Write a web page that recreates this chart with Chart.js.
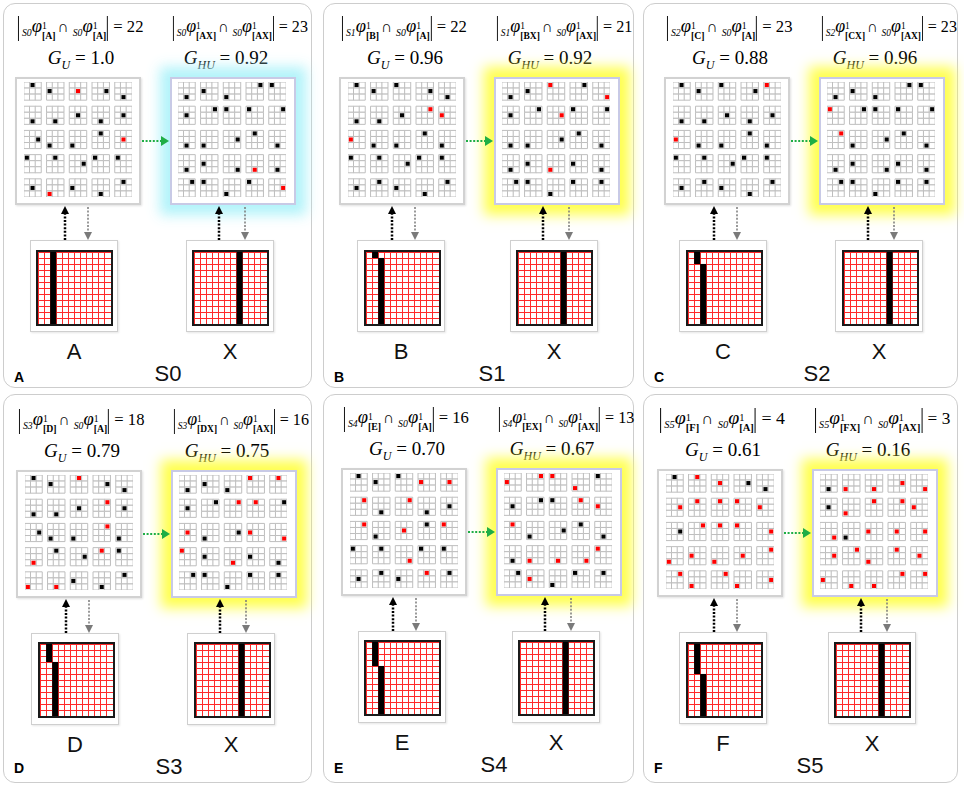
<!DOCTYPE html>
<html lang="en">
<head>
<meta charset="UTF-8">
<title>Grid patterns S0-S5</title>
<script src="https://cdn.jsdelivr.net/npm/chart.js@4.4.1/dist/chart.umd.min.js"></script>
<style>
  body { margin: 0; width: 964px; height: 787px; overflow: hidden; position: relative; background: #fff;
         font-family: 'Liberation Sans', Arial, sans-serif; }
  .panel { position: absolute; border: 1.5px solid #cdcdcd; border-radius: 12px; box-sizing: border-box; background: #fff; }
  .bigframe { position: absolute; width: 126px; height: 128px; box-sizing: border-box; background: #fff;
              border: 2px solid #d2d2d2; box-shadow: 1px 1px 2px rgba(0,0,0,0.12); }
  .glow-y { border-color: #c8cae6; box-shadow: 0 0 12px 10px rgba(255,255,70,0.95); }
  .glow-c { border-color: #c8cae6; box-shadow: 0 0 12px 10px rgba(170,242,250,0.9); }
  .smallframe { position: absolute; width: 88px; height: 92px; box-sizing: border-box; background: #fff;
                border: 1.5px solid #cfcfcf; box-shadow: 1px 1px 2px rgba(0,0,0,0.1); }
  .strip { position: absolute; width: 77px; height: 76px; box-sizing: border-box; border: 2px solid #1a1a1a; background: #fff; }
  .strip canvas { display: block; }
  .fml { position: absolute; white-space: nowrap; transform-origin: 0 0;
         font-family: 'Liberation Serif', 'Times New Roman', serif; font-size: 17px; line-height: 26px; height: 26px; }
  .vb { display: inline-block; width: 0; height: 25px; border-left: 1px solid #111; vertical-align: middle; margin: 0 1px; }
  .pre { font-style: italic; font-size: 10px; vertical-align: -4px; margin-left: 2px; }
  .phi { font-style: italic; font-size: 19px; }
  .ss { display: inline-block; font-size: 10px; line-height: 10px; vertical-align: -7px; }
  .ss span, .ss b { display: block; }
  .cap { margin: 0 2px; font-size: 16px; }
  .gval { position: absolute; white-space: nowrap; transform: translate(-50%, -50%);
          font-family: 'Liberation Serif', 'Times New Roman', serif; font-size: 19px; }
  .gval sub { font-style: italic; font-size: 12px; vertical-align: -5px; }
  .lab { position: absolute; transform: translate(-50%, -50%); font-size: 22px; color: #111; }
  .letter { position: absolute; font-size: 14px; font-weight: bold; line-height: 14px; }
  svg { position: absolute; left: 0; top: 0; }
</style>
</head>
<body>
<svg id="arrows" width="964" height="787"></svg>
<script>
// ---- data -------------------------------------------------------------
const panelNames = ['A', 'B', 'C', 'D', 'E', 'F'];
const patternNames = ['A', 'B', 'C', 'D', 'E', 'F'];
const stages = ['S0', 'S1', 'S2', 'S3', 'S4', 'S5'];
const gU = ['1.0', '0.96', '0.88', '0.79', '0.70', '0.61'];
const gHU = ['0.92', '0.92', '0.96', '0.75', '0.67', '0.16'];
const overlapLeft = [22, 22, 23, 18, 16, 4];
const overlapRight = [23, 21, 23, 16, 13, 3];

// 5x5 blocks of 3x3 cells, read row by row; token = colour (k black, r red)
// + filled cell inside the block (row*3 + col)
const cellsA = ['k1','k3','r4','k5','k7', 'k7','k7','k4','k7','k4', 'k5','k6','k6','k1','r4', 'k0','k1','k5','k0','k0', 'k4','r6','k3','k7','k1'];
const cellsB = ['k1','k3','k0','k5','k7', 'k7','k7','k4','r2','r3', 'r3','k6','k6','k1','k6', 'k0','k1','k5','k0','k0', 'k4','k1','k3','k7','k1'];
const cellsC = ['k1','k3','k0','k5','r0', 'k7','k7','k4','k7','k4', 'r3','k6','k6','k1','k6', 'k0','k1','k5','k0','k0', 'k4','k1','k3','k7','k1'];
const cellsD = ['k1','k3','r1','k5','k7', 'k7','k7','k4','r2','k4', 'k5','k6','k6','r2','k6', 'r7','k1','k5','r1','k0', 'r6','r7','k3','k7','k1'];
const cellsE = ['k1','k3','k0','r3','r4', 'r2','k7','r2','k7','k4', 'r2','k6','r4','k1','r0', 'k0','k1','r8','k0','k0', 'k4','k1','k3','r1','k1'];
const cellsF = ['k1','r1','r4','k5','k7', 'r5','r1','r1','r0','r3', 'k5','r2','r1','r0','r5', 'r6','r3','r6','r4','r2', 'r2','r6','r2','r6','r5'];
const cellsAX = ['k7','k3','k6','k2','k0', 'k4','k2','k0','k0','k2', 'k7','k6','k5','k1','k7', 'k7','k3','k8','r7','k7', 'k2','k0','k6','k0','r5'];
const cellsBX = ['k7','k3','r0','k2','r8', 'k4','k2','r5','k0','k2', 'k7','k6','k5','k1','k7', 'k7','k3','r6','k3','k7', 'k2','k0','k6','k0','k1'];
const cellsCX = ['k7','k3','k6','k2','k0', 'r0','k2','k0','k0','k2', 'r2','k6','k5','k1','k7', 'k7','k3','k8','k3','k7', 'k2','k0','k6','k0','k1'];
const cellsDX = ['k7','k3','k6','r0','r1', 'k4','k2','r2','r1','k2', 'r4','k6','k5','r3','r8', 'r0','k3','r7','k3','k7', 'k2','k0','k6','k0','k1'];
const cellsEX = ['r3','r2','r0','r6','k0', 'k4','k2','k0','r1','r3', 'r1','k6','k5','k1','k7', 'k7','r6','r7','r8','r0', 'k2','r3','k6','k0','k1'];
const cellsFX = ['k7','r6','r7','r5','r8', 'k4','r6','r1','r2','r3', 'r8','k6','r3','r4','r5', 'r5','r2','r6','r1','r4', 'r3','r7','r7','r2','r2'];

// 12x12 letter images: black column index for each of the 12 rows
const stripA = [2,2,2,2,2,2,2,2,2,2,2,2];
const stripB = [1,2,2,2,2,2,2,2,2,2,2,2];
const stripC = [1,1,2,2,2,2,2,2,2,2,2,2];
const stripD = [1,1,1,2,2,2,2,2,2,2,2,2];
const stripE = [1,1,1,1,2,2,2,2,2,2,2,2];
const stripF = [1,1,1,1,1,2,2,2,2,2,2,2];
const stripX = [7,7,7,7,7,7,7,7,7,7,7,7];

const leftCells = [cellsA, cellsB, cellsC, cellsD, cellsE, cellsF];
const rightCells = [cellsAX, cellsBX, cellsCX, cellsDX, cellsEX, cellsFX];
const leftStrips = [stripA, stripB, stripC, stripD, stripE, stripF];

// ---- layout -----------------------------------------------------------
const boxes = [
  {x: 3, y: 3, w: 309, h: 385}, {x: 323, y: 3, w: 311, h: 385}, {x: 643, y: 3, w: 315, h: 385},
  {x: 3, y: 394, w: 309, h: 389}, {x: 323, y: 394, w: 311, h: 389}, {x: 643, y: 394, w: 315, h: 389}
];
const offs = [
  {dx: 0, dy: 0, sl: 0, sr: 0}, {dx: 324, dy: 0, sl: 327, sr: 324}, {dx: 649, dy: 0, sl: 649, sr: 649},
  {dx: 1, dy: 393, sl: 1, sr: 1}, {dx: 326, dy: 391, sl: 328, sr: 326}, {dx: 642, dy: 392, sl: 649, sr: 642}
];

Chart.defaults.animation = false;
Chart.defaults.events = [];
Chart.defaults.plugins.legend.display = false;
Chart.defaults.plugins.tooltip.enabled = false;

function el(tag, cls, x, y, html) {
  const d = document.createElement(tag);
  if (cls) d.className = cls;
  d.style.left = x + 'px';
  d.style.top = y + 'px';
  if (html) d.innerHTML = html;
  document.body.appendChild(d);
  return d;
}

function canvasAt(parent, x, y, w, h) {
  const c = document.createElement('canvas');
  c.width = w; c.height = h;
  c.style.position = 'absolute';
  c.style.left = x + 'px';
  c.style.top = y + 'px';
  parent.appendChild(c);
  return c;
}

const even = v => 2 * Math.round(v / 2);

// point size from the scale unit, so cells follow the axes
function unitRadius(k, useMax) {
  return ctx => {
    const {x, y} = ctx.chart.scales;
    const ux = Math.abs(x.getPixelForValue(1) - x.getPixelForValue(0));
    const uy = Math.abs(y.getPixelForValue(1) - y.getPixelForValue(0));
    return (useMax ? Math.max(ux, uy) : Math.min(ux, uy)) * k / Math.SQRT2;
  };
}

function blockChart(canvas, tokens) {
  const cells = [], black = [], red = [];
  for (let br = 0; br < 5; br++) {
    for (let bc = 0; bc < 5; bc++) {
      for (let r = 0; r < 3; r++) for (let c = 0; c < 3; c++) cells.push({x: bc * 4 + c, y: br * 4 + r});
      const t = tokens[br * 5 + bc];
      const p = Number(t.slice(1));
      const pt = {x: bc * 4 + p % 3, y: br * 4 + Math.floor(p / 3)};
      (t[0] === 'r' ? red : black).push(pt);
    }
  }
  return new Chart(canvas, {
    type: 'scatter',
    data: {
      datasets: [
        {data: black, order: 0, pointStyle: 'rect', backgroundColor: '#000', borderWidth: 0, pointRadius: unitRadius(0.72)},
        {data: red, order: 0, pointStyle: 'rect', backgroundColor: '#ff0000', borderWidth: 0, pointRadius: unitRadius(0.72)},
        {data: cells, order: 5, pointStyle: 'rect', backgroundColor: '#fff', borderColor: '#bebebe', borderWidth: 1, pointRadius: unitRadius(1, true)}
      ]
    },
    options: {
      responsive: false,
      layout: {padding: 2},
      scales: {
        x: {display: false, min: -0.5, max: 18.5},
        y: {display: false, min: -0.5, max: 18.5, reverse: true}
      }
    }
  });
}

function stripAxis(reverse) {
  return {
    type: 'linear', min: 0, max: 12, z: 1, reverse: reverse,
    ticks: {display: false, stepSize: 1},
    grid: {color: '#ff2a2a', lineWidth: 1, drawTicks: false},
    border: {display: false}
  };
}

function stripChart(canvas, cols) {
  const pts = cols.map((c, r) => ({x: c + 0.5, y: r + 0.5}));
  return new Chart(canvas, {
    type: 'scatter',
    data: {datasets: [{data: pts, pointStyle: 'rect', backgroundColor: '#000', borderWidth: 0, pointRadius: unitRadius(1, true)}]},
    options: {
      responsive: false,
      scales: {x: stripAxis(false), y: stripAxis(true)}
    }
  });
}

function formula(pre, sub, sub2, value) {
  const part = (p, s) => `<span class="pre">${p}</span><span class="phi">φ</span><span class="ss"><span>1</span><b>[${s}]</b></span>`;
  return `<span class="vb"></span>${part(pre, sub)}<span class="cap">∩</span>${part('S0', sub2)}<span class="vb"></span> = ${value}`;
}

// place a formula centred at cx, squeezed to the measured width of the original
function placeFormula(cx, y, width, html) {
  const d = el('div', 'fml', 0, y, html);
  const w = d.offsetWidth;
  const k = width / w;
  d.style.left = (cx - width / 2) + 'px';
  d.style.transform = `scaleX(${k})`;
  return d;
}

const svg = document.getElementById('arrows');
function svgAdd(tag, attrs) {
  const n = document.createElementNS('http://www.w3.org/2000/svg', tag);
  for (const k in attrs) n.setAttribute(k, attrs[k]);
  svg.appendChild(n);
}
function arrow(x, y1, y2, color, width) {
  // arrow from y1 to y2 (head at y2)
  const dir = y2 > y1 ? 1 : -1;
  svgAdd('line', {x1: x, y1: y1, x2: x, y2: y2 - dir * 7, stroke: color, 'stroke-width': width, 'stroke-dasharray': '2 1.6'});
  svgAdd('polygon', {points: `${x},${y2} ${x - 4},${y2 - dir * 8} ${x + 4},${y2 - dir * 8}`, fill: color});
}

panelNames.forEach((name, i) => {
  const b = boxes[i], o = offs[i];
  const p = el('div', 'panel', b.x, b.y);
  p.style.width = b.w + 'px';
  p.style.height = b.h + 'px';

  const X = v => o.dx + v, Y = v => o.dy + v;

  // formulas
  const pre = stages[i];
  placeFormula(X(80), Y(13), 126, formula(pre, patternNames[i], 'A', overlapLeft[i]));
  placeFormula(X(240), Y(13), 136, formula(pre, patternNames[i] + 'X', 'AX', overlapRight[i]));
  el('div', 'gval', X(81), Y(60), `<i>G</i><sub>U</sub> = ${gU[i]}`);
  el('div', 'gval', X(226), Y(60), `<i>G</i><sub>HU</sub> = ${gHU[i]}`);

  // big block grids
  el('div', 'bigframe', X(15), Y(77));
  el('div', 'bigframe ' + (i === 0 ? 'glow-c' : 'glow-y'), X(170), Y(77));
  blockChart(canvasAt(document.body, X(22), Y(80), 112, 119), leftCells[i]);
  blockChart(canvasAt(document.body, X(176), Y(80), 112, 119), rightCells[i]);

  // small letter images
  el('div', 'smallframe', o.sl + 30, Y(240));
  el('div', 'smallframe', o.sr + 186, Y(240));
  const sl = el('div', 'strip', even(o.sl + 36), even(Y(249)));
  const sr = el('div', 'strip', even(o.sr + 192), even(Y(249)));
  stripChart(canvasAt(sl, 0, 0, 73, 72), leftStrips[i]);
  stripChart(canvasAt(sr, 0, 0, 73, 72), stripX);

  // labels
  el('div', 'lab', o.sl + 74, Y(352), patternNames[i]);
  el('div', 'lab', o.sr + 230, Y(352), 'X');
  el('div', 'lab', X(168), Y(374), stages[i]);
  el('div', 'letter', b.x + 11, b.y + 367, name);

  // arrows
  svgAdd('line', {x1: X(142), y1: Y(141), x2: X(162), y2: Y(141), stroke: '#1fae45', 'stroke-width': 2, 'stroke-dasharray': '2 1.6'});
  svgAdd('polygon', {points: `${X(169)},${Y(141)} ${X(161)},${Y(136)} ${X(161)},${Y(146)}`, fill: '#1fae45'});
  arrow(o.sl + 65, Y(240), Y(206), '#000', 2.5);
  arrow(o.sl + 88, Y(207), Y(240), '#7a7a7a', 1.5);
  arrow(o.sr + 219, Y(240), Y(206), '#000', 2.5);
  arrow(o.sr + 245, Y(207), Y(240), '#7a7a7a', 1.5);
});
document.body.appendChild(svg);
</script>
</body>
</html>
